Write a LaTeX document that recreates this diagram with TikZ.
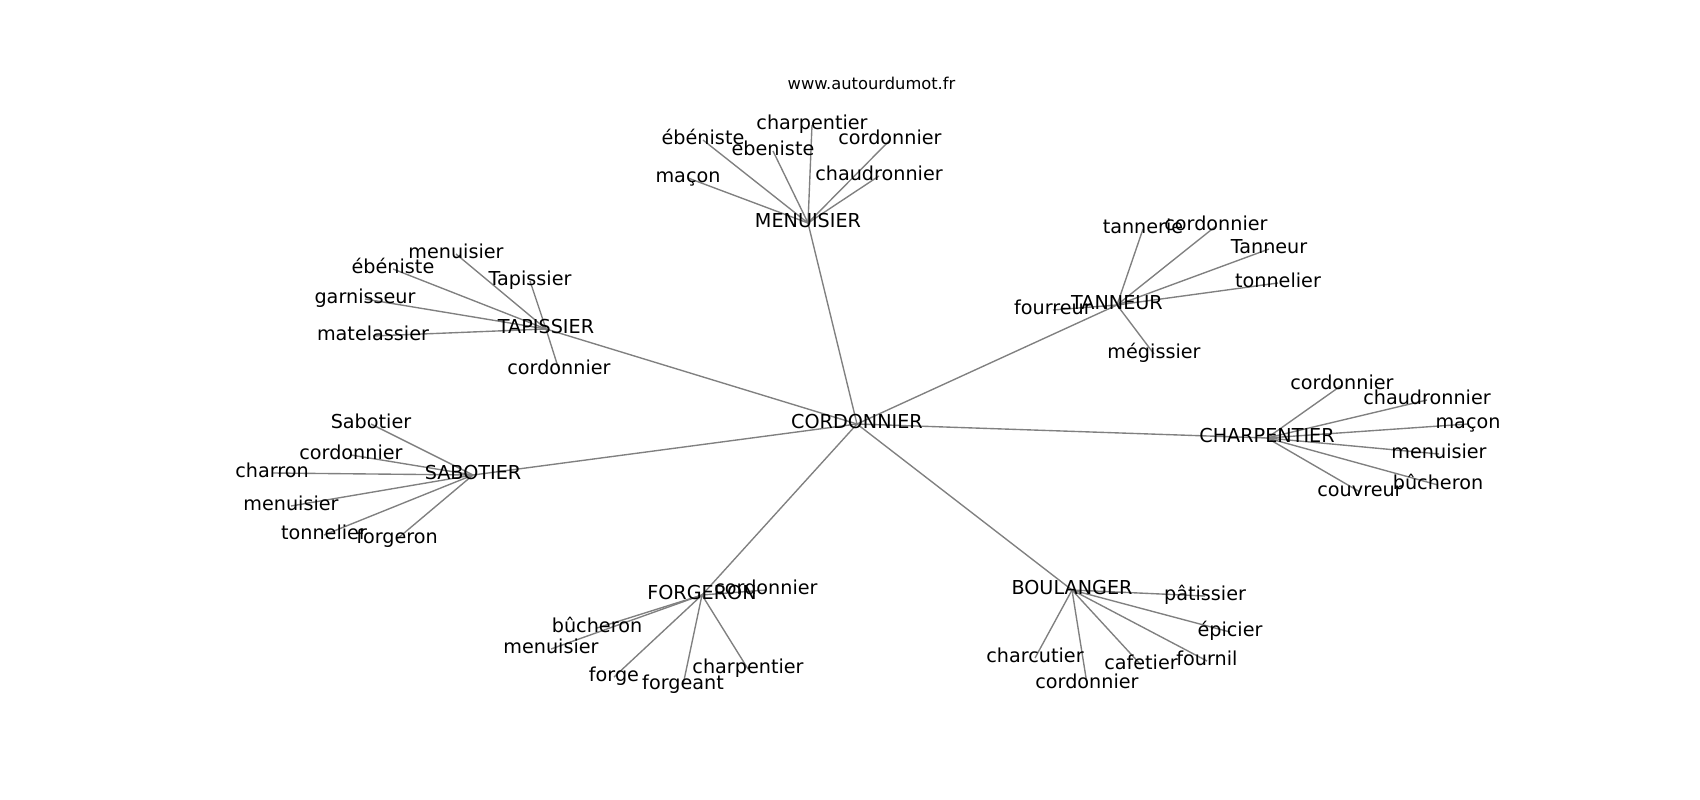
\documentclass[tikz,border=0pt]{standalone}
\usepackage{fontspec}
\setmainfont{DejaVu Sans}
\usetikzlibrary{backgrounds}
\begin{document}
\begin{tikzpicture}[x=1pt,y=-1pt,
  lab/.style={inner sep=0pt, font=\fontsize{19.2}{23}\selectfont, text height=14pt, text depth=4.6pt},
  ttl/.style={inner sep=0pt, font=\fontsize{16.3}{20}\selectfont},
  link/.style={draw=gray, line width=1.375pt}]
\path[use as bounding box] (0,0) rectangle (1700,800);
\node[ttl] (url) at (871.5,83) {www.autourdumot.fr};
% hubs
\node[lab] (cor) at (857,424) {CORDONNIER};
\node[lab] (men) at (808,223) {MENUISIER};
\node[lab] (tap) at (546,329) {TAPISSIER};
\node[lab] (sab) at (473,475) {SABOTIER};
\node[lab] (tan) at (1117,305) {TANNEUR};
\node[lab] (cha) at (1267,438) {CHARPENTIER};
\node[lab] (bou) at (1072,590) {BOULANGER};
\node[lab] (for) at (702,595) {FORGERON};
% MENUISIER leaves
\node[lab] (m1) at (812,125) {charpentier};
\node[lab] (m2) at (703,140) {ébéniste};
\node[lab] (m3) at (773,151) {ebeniste};
\node[lab] (m4) at (890,140) {cordonnier};
\node[lab] (m5) at (688,178) {maçon};
\node[lab] (m6) at (879,176) {chaudronnier};
% TAPISSIER leaves
\node[lab] (t1) at (456,254) {menuisier};
\node[lab] (t2) at (393,269) {ébéniste};
\node[lab] (t3) at (530,281) {Tapissier};
\node[lab] (t4) at (365,299) {garnisseur};
\node[lab] (t5) at (373,336) {matelassier};
\node[lab] (t6) at (559,370) {cordonnier};
% SABOTIER leaves
\node[lab] (s1) at (371,424) {Sabotier};
\node[lab] (s2) at (351,455) {cordonnier};
\node[lab] (s3) at (272,473) {charron};
\node[lab] (s4) at (291,506) {menuisier};
\node[lab] (s5) at (324,535) {tonnelier};
\node[lab] (s6) at (397,539) {forgeron};
% TANNEUR leaves
\node[lab] (n1) at (1143,229) {tannerie};
\node[lab] (n2) at (1216,226) {cordonnier};
\node[lab] (n3) at (1269,249) {Tanneur};
\node[lab] (n4) at (1278,283) {tonnelier};
\node[lab] (n5) at (1053,310) {fourreur};
\node[lab] (n6) at (1154,354) {mégissier};
% CHARPENTIER leaves
\node[lab] (c1) at (1342,385) {cordonnier};
\node[lab] (c2) at (1427,400) {chaudronnier};
\node[lab] (c3) at (1468,424) {maçon};
\node[lab] (c4) at (1439,454) {menuisier};
\node[lab] (c5) at (1438,485) {bûcheron};
\node[lab] (c6) at (1360,492) {couvreur};
% BOULANGER leaves
\node[lab] (b1) at (1205,596) {pâtissier};
\node[lab] (b2) at (1230,632) {épicier};
\node[lab] (b3) at (1035,658) {charcutier};
\node[lab] (b4) at (1141,665) {cafetier};
\node[lab] (b5) at (1207,661) {fournil};
\node[lab] (b6) at (1087,684) {cordonnier};
% FORGERON leaves
\node[lab] (f1) at (766,590) {cordonnier};
\node[lab] (f2) at (597,628) {bûcheron};
\node[lab] (f3) at (551,649) {menuisier};
\node[lab] (f4) at (614,677) {forge};
\node[lab] (f5) at (683,685) {forgeant};
\node[lab] (f6) at (748,669) {charpentier};
\begin{scope}[on background layer]
\foreach \h in {men,tap,sab,tan,cha,bou,for}
  \draw[link] (cor.center) -- (\h.center);
\foreach \l in {m1,m2,m3,m4,m5,m6}
  \draw[link] (men.center) -- (\l.center);
\foreach \l in {t1,t2,t3,t4,t5,t6}
  \draw[link] (tap.center) -- (\l.center);
\foreach \l in {s1,s2,s3,s4,s5,s6}
  \draw[link] (sab.center) -- (\l.center);
\foreach \l in {n1,n2,n3,n4,n5,n6}
  \draw[link] (tan.center) -- (\l.center);
\foreach \l in {c1,c2,c3,c4,c5,c6}
  \draw[link] (cha.center) -- (\l.center);
\foreach \l in {b1,b2,b3,b4,b5,b6}
  \draw[link] (bou.center) -- (\l.center);
\foreach \l in {f1,f2,f3,f4,f5,f6}
  \draw[link] (for.center) -- (\l.center);
\end{scope}
\end{tikzpicture}
\end{document}
